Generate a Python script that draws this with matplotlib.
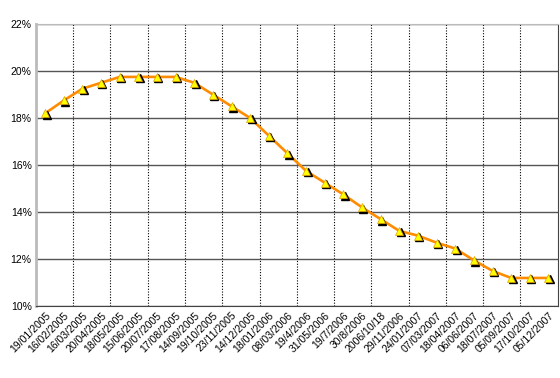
import matplotlib.pyplot as plt
import matplotlib.transforms as mtransforms
from matplotlib.ticker import FixedLocator

# dates on the x axis (labels as printed in the chart)
dates = ['19/01/2005', '16/02/2005', '16/03/2005', '20/04/2005', '18/05/2005',
         '15/06/2005', '20/07/2005', '17/08/2005', '14/09/2005', '19/10/2005',
         '23/11/2005', '14/12/2005', '18/01/2006', '08/03/2006', '19/4/2006',
         '31/05/2006', '19/7/2006', '30/8/2006', '2006/10/18', '29/11/2006',
         '24/01/2007', '07/03/2007', '18/04/2007', '06/06/2007', '18/07/2007',
         '05/09/2007', '17/10/2007', '05/12/2007']
# rate in percent
rates = [18.2, 18.75, 19.25, 19.5, 19.75, 19.75, 19.75, 19.75, 19.5, 19.0,
         18.5, 18.0, 17.25, 16.5, 15.75, 15.25, 14.75, 14.2, 13.7, 13.2,
         13.0, 12.7, 12.45, 11.95, 11.5, 11.2, 11.2, 11.2]
yticks = [10, 12, 14, 16, 18, 20, 22]

fig = plt.figure(figsize=(5.6, 3.78), dpi=100)
ax = fig.add_axes([0.064, 0.19, 0.932, 0.7465])

x = list(range(len(dates)))
ax.plot(x, rates, color='#ff8c00', lw=1.9, zorder=3)
# black drop shadow under the triangle markers
shadow = mtransforms.offset_copy(ax.transData, fig=fig, x=1.0, y=-1.0, units='points')
ax.plot(x, rates, ls='none', marker='^', ms=6, color='black', transform=shadow, zorder=4)
ax.plot(x, rates, ls='none', marker='^', ms=6, mfc='#ffff00', mec='#e0a000', mew=0.5, zorder=5)

ax.set_xlim(-0.5, len(dates) - 0.5)
ax.set_ylim(10, 22)
ax.set_yticks(yticks)
ax.set_yticklabels([f'{v}%' for v in yticks], fontsize=7.5, family='Liberation Sans')
ax.set_xticks(x)
ax.set_xticklabels(dates, rotation=45, ha='right', rotation_mode='anchor',
                   fontsize=7.5, family='Liberation Sans')
ax.tick_params(axis='both', length=0, pad=3)

# grid: solid horizontal, dotted vertical every two categories
ax.yaxis.grid(True, color='#555555', lw=1.0)
ax.xaxis.set_minor_locator(FixedLocator([i + 0.5 for i in range(1, len(dates) - 1, 2)]))
ax.xaxis.grid(True, which='minor', color='black', ls=(0, (1, 1.5)), lw=0.8)
ax.xaxis.grid(False, which='major')
ax.tick_params(axis='x', which='minor', length=0)
ax.set_axisbelow(True)

ax.spines['left'].set_color('#bbbbbb')
ax.spines['left'].set_linewidth(2)
ax.spines['top'].set_color('#bbbbbb')
ax.spines['bottom'].set_color('#444444')
ax.spines['right'].set_color('#444444')

plt.savefig('out.png', dpi=100)
